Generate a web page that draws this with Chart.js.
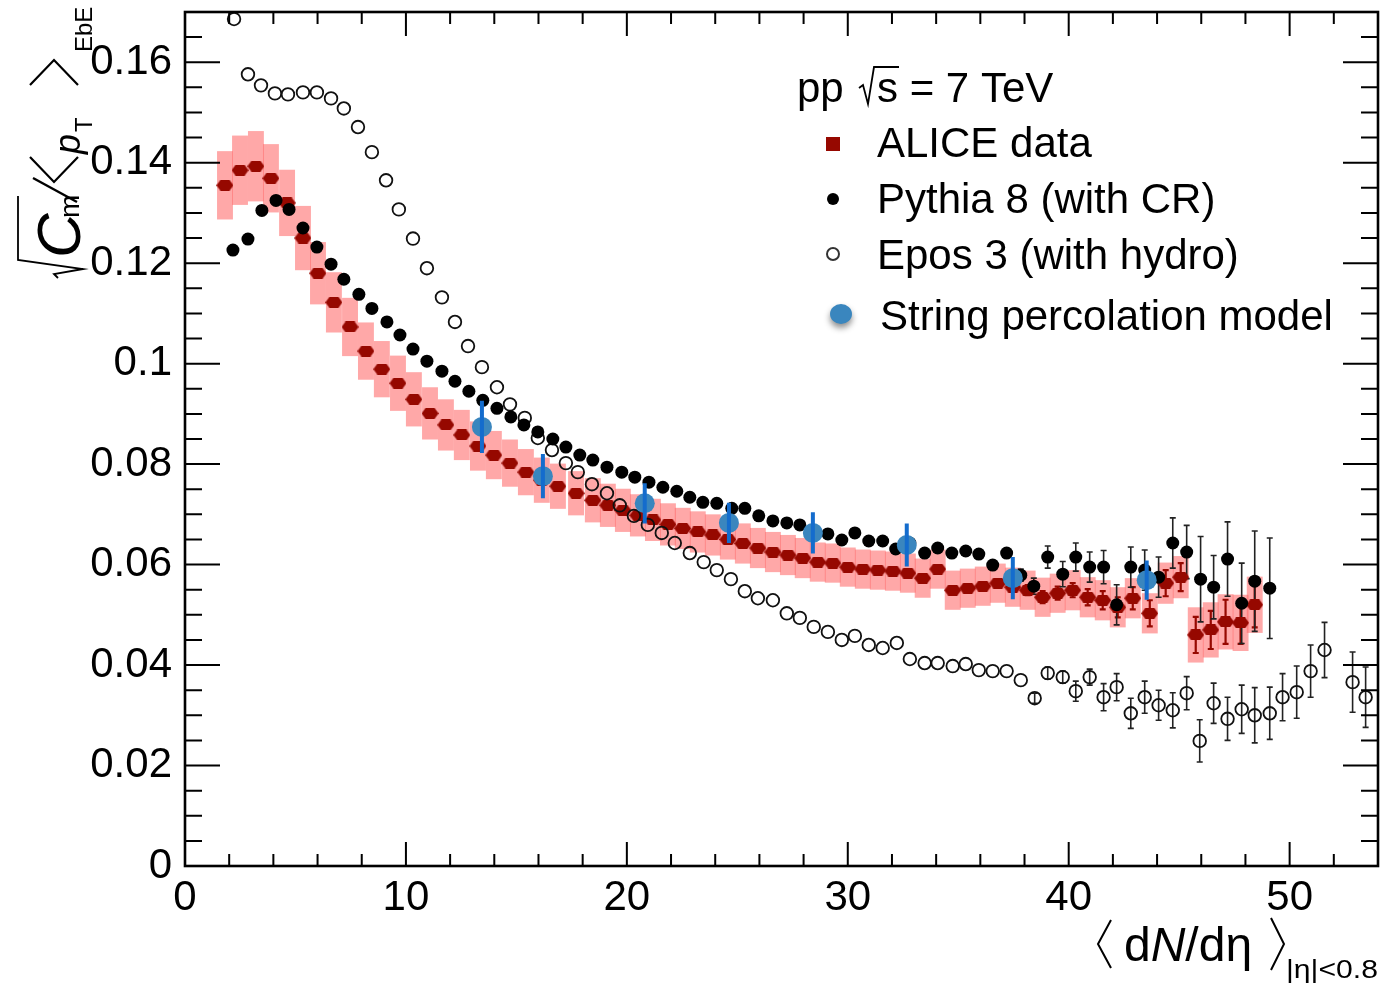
<!DOCTYPE html>
<html>
<head>
<meta charset="utf-8">
<title>sqrt(Cm)/&lt;pT&gt; vs dN/deta, pp 7 TeV</title>
<script src="https://cdn.jsdelivr.net/npm/chart.js@4.4.1/dist/chart.umd.min.js"></script>
<style>
  html, body { margin: 0; padding: 0; background: #fff; }
  canvas { display: block; }
</style>
</head>
<body>
<canvas id="cm-chart" width="1383" height="985"></canvas>
<script>
// axis ticks
const xTicks = [0, 10, 20, 30, 40, 50];
const yTicks = [0, 0.02, 0.04, 0.06, 0.08, 0.1, 0.12, 0.14, 0.16];

// ALICE data: value, systematic (boxes) and statistical (bars) uncertainty
const aliceX = [
  1.81, 2.49, 3.21, 3.89, 4.62, 5.34, 6.02, 6.74, 7.47, 8.19,
  8.91, 9.64, 10.36, 11.09, 11.81, 12.53, 13.26, 13.98, 14.71, 15.43,
  16.15, 16.88, 17.7, 18.46, 19.14, 19.82, 20.5, 21.18, 21.86, 22.53,
  23.21, 23.89, 24.57, 25.25, 25.93, 26.61, 27.29, 27.96, 28.64, 29.32,
  30.0, 30.68, 31.36, 32.04, 32.72, 33.39, 34.07, 34.75, 35.43, 36.11,
  36.79, 37.47, 38.14, 38.82, 39.5, 40.18, 40.86, 41.54, 42.22, 42.9,
  43.67, 44.39, 45.07, 45.75, 46.43, 47.1, 47.78, 48.42
];
const aliceY = [
  0.1355, 0.1385, 0.1393, 0.1369, 0.132, 0.125, 0.118, 0.1122, 0.1073, 0.1025,
  0.0989, 0.0961, 0.0929, 0.0901, 0.0878, 0.0858, 0.0836, 0.0818, 0.0802, 0.0784,
  0.0768, 0.0756, 0.0742, 0.0728, 0.0718, 0.0708, 0.0698, 0.0689, 0.068, 0.0672,
  0.0665, 0.0659, 0.065, 0.0642, 0.0633, 0.0625, 0.0619, 0.0613, 0.0605, 0.0603,
  0.0595, 0.0591, 0.0589, 0.0587, 0.0583, 0.0573, 0.0591, 0.0549, 0.0553, 0.0557,
  0.0563, 0.0555, 0.0549, 0.0535, 0.0543, 0.0549, 0.0535, 0.0529, 0.0515, 0.0533,
  0.0503, 0.0563, 0.0575, 0.046, 0.047, 0.0486, 0.0484, 0.052
];
const aliceSys = [
  0.0068, 0.0069, 0.007, 0.0068, 0.0066, 0.0064, 0.0062, 0.006, 0.0058, 0.0057,
  0.0056, 0.0055, 0.0054, 0.0052, 0.0051, 0.005, 0.0049, 0.0048, 0.0047, 0.0046,
  0.0045, 0.0045, 0.0044, 0.0044, 0.0043, 0.0043, 0.0042, 0.0042, 0.0042, 0.0041,
  0.0041, 0.0041, 0.004, 0.004, 0.004, 0.004, 0.004, 0.004, 0.0039, 0.0039,
  0.0039, 0.0039, 0.0039, 0.0039, 0.0039, 0.0039, 0.0039, 0.0039, 0.0039, 0.0039,
  0.0039, 0.0039, 0.0039, 0.0039, 0.0039, 0.004, 0.004, 0.004, 0.004, 0.004,
  0.004, 0.0041, 0.0042, 0.0055, 0.0055, 0.0055, 0.0056, 0.0056
];
const aliceStat = [
  0, 0, 0, 0, 0, 0, 0, 0, 0, 0,
  0, 0, 0, 0, 0, 0, 0, 0, 0, 0,
  0, 0, 0, 0, 0, 0, 0, 0, 0, 0,
  0, 0, 0, 0, 0, 0, 0, 0, 0, 0,
  0, 0, 0, 0, 0, 0, 0, 0, 0, 0,
  0, 0, 0.001, 0.0012, 0.0013, 0.0014, 0.0016, 0.0018, 0.002, 0.0022,
  0.0026, 0.0026, 0.0028, 0.0036, 0.0038, 0.0044, 0.0042, 0.0045
];

// Pythia 8 with colour reconnection
const pythiaX = [
  2.17, 2.85, 3.48, 4.12, 4.71, 5.34, 5.97, 6.61, 7.19, 7.87,
  8.46, 9.14, 9.73, 10.32, 10.95, 11.63, 12.22, 12.85, 13.48, 14.12,
  14.75, 15.34, 15.97, 16.65, 17.24, 17.87, 18.46, 19.1, 19.77, 20.36,
  21.0, 21.63, 22.26, 22.85, 23.44, 24.07, 24.75, 25.34, 25.97, 26.61,
  27.24, 27.83, 28.46, 29.1, 29.73, 30.32, 30.95, 31.58, 32.17, 32.81,
  33.48, 34.07, 34.71, 35.34, 35.93, 36.56, 37.19, 37.83, 38.42, 39.05,
  39.73, 40.32, 40.95, 41.58, 42.17, 42.81, 43.44, 44.07, 44.71, 45.34,
  45.97, 46.56, 47.19, 47.83, 48.42, 49.1
];
const pythiaY = [
  0.1226, 0.1248, 0.1305, 0.1325, 0.1307, 0.127, 0.1232, 0.1198, 0.1168, 0.1138,
  0.111, 0.1083, 0.1057, 0.1029, 0.1005, 0.0985, 0.0965, 0.0945, 0.0927, 0.0911,
  0.0894, 0.0878, 0.0864, 0.085, 0.0834, 0.0818, 0.0808, 0.0794, 0.0784, 0.0774,
  0.0764, 0.0754, 0.0746, 0.0734, 0.0724, 0.0722, 0.0712, 0.0712, 0.0697, 0.0687,
  0.0683, 0.0679, 0.0665, 0.0661, 0.0649, 0.0663, 0.0647, 0.0647, 0.0631, 0.0643,
  0.0623, 0.0633, 0.0623, 0.0627, 0.0621, 0.0599, 0.0623, 0.0579, 0.0557, 0.0615,
  0.0581, 0.0615, 0.0595, 0.0595, 0.052, 0.0595, 0.0589, 0.0575, 0.0643, 0.0625,
  0.0571, 0.0555, 0.0611, 0.0523, 0.0567, 0.0553
];
const pythiaErr = [
  0, 0, 0, 0, 0, 0, 0, 0, 0, 0,
  0, 0, 0, 0, 0, 0, 0, 0, 0, 0,
  0, 0, 0, 0, 0, 0, 0, 0, 0, 0,
  0, 0, 0, 0, 0, 0, 0, 0, 0, 0,
  0, 0, 0, 0, 0, 0, 0, 0, 0, 0,
  0, 0, 0, 0, 0, 0, 0.0008, 0.0012, 0.0016, 0.0022,
  0.0025, 0.0028, 0.003, 0.0033, 0.004, 0.004, 0.004, 0.004, 0.005, 0.0053,
  0.0085, 0.0063, 0.0074, 0.008, 0.01, 0.01
];

// EPOS 3 with hydro
const eposX = [
  2.22, 2.85, 3.44, 4.07, 4.66, 5.34, 5.97, 6.61, 7.19, 7.83,
  8.46, 9.1, 9.68, 10.32, 10.95, 11.63, 12.22, 12.81, 13.44, 14.12,
  14.71, 15.38, 15.97, 16.61, 17.24, 17.78, 18.42, 19.1, 19.68, 20.32,
  20.95, 21.58, 22.17, 22.85, 23.48, 24.07, 24.71, 25.34, 25.93, 26.61,
  27.24, 27.83, 28.46, 29.1, 29.73, 30.32, 30.95, 31.58, 32.22, 32.81,
  33.48, 34.07, 34.75, 35.34, 35.93, 36.56, 37.19, 37.83, 38.46, 39.05,
  39.73, 40.32, 40.95, 41.58, 42.17, 42.81, 43.44, 44.07, 44.71, 45.34,
  45.93, 46.56, 47.19, 47.83, 48.42, 49.1, 49.68, 50.32, 50.95, 51.58,
  52.85, 53.44
];
const eposY = [
  0.1686, 0.1576, 0.1554, 0.1538, 0.1536, 0.154, 0.154, 0.1528, 0.1508, 0.1471,
  0.1421, 0.1365, 0.1307, 0.1249, 0.119, 0.1132, 0.1083, 0.1035, 0.0993, 0.0953,
  0.0919, 0.0892, 0.0852, 0.0828, 0.0802, 0.0784, 0.076, 0.0742, 0.0718, 0.0697,
  0.0679, 0.0663, 0.0643, 0.0623, 0.0605, 0.0589, 0.0571, 0.0547, 0.0533, 0.0529,
  0.0503, 0.0494, 0.0476, 0.0466, 0.045, 0.0458, 0.044, 0.0434, 0.0444, 0.0412,
  0.0404, 0.0404, 0.0398, 0.0402, 0.039, 0.0388, 0.0388, 0.037, 0.0334, 0.0384,
  0.0376, 0.0348, 0.0376, 0.0336, 0.0356, 0.0304, 0.0336, 0.032, 0.031, 0.0344,
  0.0249, 0.0324, 0.0293, 0.0312, 0.03, 0.0304, 0.0336, 0.0346, 0.0388, 0.043,
  0.0366, 0.0336
];
const eposErr = [
  0, 0, 0, 0, 0, 0, 0, 0, 0, 0,
  0, 0, 0, 0, 0, 0, 0, 0, 0, 0,
  0, 0, 0, 0, 0, 0, 0, 0, 0, 0,
  0, 0, 0, 0, 0, 0, 0, 0, 0, 0,
  0, 0, 0, 0, 0, 0, 0, 0, 0, 0,
  0, 0, 0, 0, 0, 0, 0, 0, 0.001, 0.0012,
  0.0012, 0.002, 0.0016, 0.0027, 0.0027, 0.003, 0.0032, 0.003, 0.0035, 0.0033,
  0.0042, 0.004, 0.0043, 0.0048, 0.0055, 0.0052, 0.0047, 0.0052, 0.0052, 0.0055,
  0.006, 0.006
];

// string percolation model
const spmX = [13.44, 16.2, 20.81, 24.62, 28.42, 32.67, 37.47, 43.53];
const spmY = [0.0874, 0.0776, 0.0722, 0.0683, 0.0663, 0.0639, 0.0573, 0.0569];
const spmErr = [0.0052, 0.0044, 0.004, 0.004, 0.0041, 0.0043, 0.0042, 0.0039];

const FONT = '"Liberation Sans", Arial, Helvetica, sans-serif';
const ALICE_RED = 'rgb(150, 8, 0)';
const SYS_FILL = 'rgba(255, 105, 105, 0.58)';
const SPM_BLUE = 'rgb(58, 134, 190)';
const SPM_BAR = 'rgb(20, 108, 205)';
const SYS_HALF_W = 0.36; // box half width, dN/deta units

function toPoints(xs, ys) {
  return xs.map((x, i) => ({ x: x, y: ys[i] }));
}

// flattened hexagon used for the ALICE points
function makeAliceMarker(w, h, color) {
  const c = document.createElement('canvas');
  c.width = w;
  c.height = h;
  const g = c.getContext('2d');
  g.fillStyle = color;
  g.beginPath();
  g.moveTo(4, 0);
  g.lineTo(w - 4, 0);
  g.lineTo(w, h / 2);
  g.lineTo(w - 4, h);
  g.lineTo(4, h);
  g.lineTo(0, h / 2);
  g.closePath();
  g.fill();
  return c;
}
const aliceMarker = makeAliceMarker(17, 11, ALICE_RED);

function drawErrorBars(chart, xs, ys, errs, color, lw, cap) {
  const ctx = chart.ctx;
  const sx = chart.scales.x;
  const sy = chart.scales.y;
  ctx.save();
  ctx.strokeStyle = color;
  ctx.lineWidth = lw;
  ctx.beginPath();
  xs.forEach((xv, i) => {
    if (!errs[i]) {
      return;
    }
    const px = sx.getPixelForValue(xv);
    const lo = sy.getPixelForValue(ys[i] - errs[i]);
    const hi = sy.getPixelForValue(ys[i] + errs[i]);
    ctx.moveTo(px, lo);
    ctx.lineTo(px, hi);
    if (cap) {
      ctx.moveTo(px - cap, lo);
      ctx.lineTo(px + cap, lo);
      ctx.moveTo(px - cap, hi);
      ctx.lineTo(px + cap, hi);
    }
  });
  ctx.stroke();
  ctx.restore();
}

function line(ctx, pts) {
  ctx.beginPath();
  ctx.moveTo(pts[0][0], pts[0][1]);
  for (let i = 1; i < pts.length; i++) {
    ctx.lineTo(pts[i][0], pts[i][1]);
  }
  ctx.stroke();
}

// inward ticks on all four sides, like a ROOT frame
function drawFrame(chart) {
  const ctx = chart.ctx;
  const a = chart.chartArea;
  const sx = chart.scales.x;
  const sy = chart.scales.y;
  ctx.save();
  ctx.strokeStyle = '#000';
  ctx.lineWidth = 2;
  ctx.beginPath();
  for (let v = 0; v <= 54; v += 2) {
    const px = sx.getPixelForValue(v);
    const len = v % 10 === 0 ? 24 : 12;
    ctx.moveTo(px, a.bottom);
    ctx.lineTo(px, a.bottom - len);
    ctx.moveTo(px, a.top);
    ctx.lineTo(px, a.top + len);
  }
  for (let i = 0; i <= 34; i++) {
    const py = sy.getPixelForValue(i * 0.005);
    const len = i % 4 === 0 ? 35 : 17;
    ctx.moveTo(a.left, py);
    ctx.lineTo(a.left + len, py);
    ctx.moveTo(a.right, py);
    ctx.lineTo(a.right - len, py);
  }
  ctx.stroke();
  ctx.lineWidth = 2.6;
  ctx.strokeRect(a.left, a.top, a.right - a.left, a.bottom - a.top);
  ctx.restore();
}

function drawXTitle(ctx) {
  ctx.save();
  ctx.fillStyle = '#000';
  ctx.strokeStyle = '#000';
  ctx.lineWidth = 2;
  ctx.lineJoin = 'miter';
  line(ctx, [[1111, 920], [1098, 944], [1111, 968]]);
  line(ctx, [[1271, 918], [1284, 944], [1271, 970]]);
  ctx.textBaseline = 'alphabetic';
  let x = 1124;
  const base = 961;
  const parts = [['d', ''], ['N', 'italic '], ['/d', ''], ['\u03b7', '']];
  parts.forEach(p => {
    ctx.font = p[1] + '48px ' + FONT;
    ctx.fillText(p[0], x, base);
    x += ctx.measureText(p[0]).width;
  });
  ctx.font = '26px ' + FONT;
  const sub = '|\u03b7|<0.8';
  const w = ctx.measureText(sub).width;
  ctx.translate(1286, 978);
  ctx.scale(92 / w, 1);
  ctx.fillText(sub, 0, 0);
  ctx.restore();
}

function drawYTitle(ctx) {
  ctx.save();
  ctx.translate(80, 278);
  ctx.rotate(-Math.PI / 2);
  ctx.fillStyle = '#000';
  ctx.strokeStyle = '#000';
  ctx.textBaseline = 'alphabetic';
  // square root sign over C_m
  ctx.lineWidth = 1.8;
  line(ctx, [[0, -22], [4, -26], [9, 3], [18, -62], [82, -62]]);
  ctx.font = 'italic 62px ' + FONT;
  ctx.fillText('C', 20, 0);
  ctx.font = '28px ' + FONT;
  ctx.fillText('m', 60, -1);
  ctx.lineWidth = 2.4;
  line(ctx, [[76, -3], [100, -47]]);
  ctx.lineWidth = 2.2;
  line(ctx, [[121, -50], [96, -26], [121, -2]]);
  ctx.font = 'italic 36px ' + FONT;
  ctx.fillText('p', 124, 0);
  ctx.font = '24px ' + FONT;
  ctx.fillText('T', 146, 12);
  line(ctx, [[193, -50], [218, -26], [193, -2]]);
  ctx.font = '24px ' + FONT;
  ctx.fillText('EbE', 226, 12);
  ctx.restore();
}

function drawLegend(ctx) {
  ctx.save();
  ctx.fillStyle = '#000';
  ctx.strokeStyle = '#000';
  ctx.textBaseline = 'alphabetic';
  ctx.font = '42px ' + FONT;
  ctx.fillText('pp', 797, 102);
  ctx.lineWidth = 1.8;
  line(ctx, [[859, 88], [863, 85], [868, 104], [874, 67], [899, 67]]);
  ctx.fillText('s = 7 TeV', 877, 102);

  ctx.fillStyle = ALICE_RED;
  ctx.fillRect(826, 137, 14, 14);
  ctx.fillStyle = '#000';
  ctx.beginPath();
  ctx.arc(833, 199, 6, 0, Math.PI * 2);
  ctx.fill();
  ctx.lineWidth = 2;
  ctx.strokeStyle = '#333';
  ctx.beginPath();
  ctx.arc(833, 254, 6, 0, Math.PI * 2);
  ctx.stroke();
  ctx.save();
  ctx.shadowColor = 'rgba(0, 0, 0, 0.45)';
  ctx.shadowBlur = 6;
  ctx.shadowOffsetY = 4;
  ctx.fillStyle = SPM_BLUE;
  ctx.beginPath();
  ctx.ellipse(841, 314, 11, 10, 0, 0, Math.PI * 2);
  ctx.fill();
  ctx.restore();

  ctx.fillStyle = '#000';
  ctx.fillText('ALICE data', 877, 157);
  ctx.fillText('Pythia 8 (with CR)', 877, 213);
  ctx.fillText('Epos 3 (with hydro)', 877, 269);
  ctx.fillText('String percolation model', 880, 330);
  ctx.restore();
}

const rootStyle = {
  id: 'rootStyle',
  beforeDatasetsDraw(chart) {
    const ctx = chart.ctx;
    const a = chart.chartArea;
    const sx = chart.scales.x;
    const sy = chart.scales.y;
    ctx.save();
    ctx.beginPath();
    ctx.rect(a.left, a.top, a.right - a.left, a.bottom - a.top);
    ctx.clip();
    ctx.fillStyle = SYS_FILL;
    aliceX.forEach((xv, i) => {
      const l = sx.getPixelForValue(xv - SYS_HALF_W);
      const r = sx.getPixelForValue(xv + SYS_HALF_W);
      const t = sy.getPixelForValue(aliceY[i] + aliceSys[i]);
      const b = sy.getPixelForValue(aliceY[i] - aliceSys[i]);
      ctx.fillRect(l, t, r - l, b - t);
    });
    drawErrorBars(chart, aliceX, aliceY, aliceStat, ALICE_RED, 2.2, 3);
    drawErrorBars(chart, eposX, eposY, eposErr, '#222', 1.6, 3);
    drawErrorBars(chart, pythiaX, pythiaY, pythiaErr, '#222', 1.6, 3);
    ctx.restore();
  },
  afterDatasetsDraw(chart) {
    drawErrorBars(chart, spmX, spmY, spmErr, SPM_BAR, 4, 0);
  },
  afterDraw(chart) {
    const ctx = chart.ctx;
    drawFrame(chart);
    drawXTitle(ctx);
    drawYTitle(ctx);
    drawLegend(ctx);
  },
};

new Chart(document.getElementById('cm-chart'), {
  type: 'scatter',
  data: {
    datasets: [
      {
        label: 'String percolation model',
        data: toPoints(spmX, spmY),
        pointRadius: 10,
        pointBackgroundColor: SPM_BLUE,
        pointBorderWidth: 0,
        order: 0,
      },
      {
        label: 'Pythia 8 (with CR)',
        data: toPoints(pythiaX, pythiaY),
        pointRadius: 6.5,
        pointBackgroundColor: '#000',
        pointBorderWidth: 0,
        order: 1,
      },
      {
        label: 'Epos 3 (with hydro)',
        data: toPoints(eposX, eposY),
        pointRadius: 6.3,
        pointBackgroundColor: 'rgba(0, 0, 0, 0)',
        pointBorderColor: '#111',
        pointBorderWidth: 1.8,
        order: 2,
      },
      {
        label: 'ALICE data',
        data: toPoints(aliceX, aliceY),
        pointStyle: aliceMarker,
        order: 3,
      },
    ],
  },
  options: {
    responsive: false,
    animation: false,
    events: [],
    layout: { padding: { left: 0, top: 12, right: 5, bottom: 0 }, autoPadding: false },
    plugins: {
      legend: { display: false },
      tooltip: { enabled: false },
    },
    scales: {
      x: {
        type: 'linear',
        min: 0,
        max: 54,
        grid: { display: false, drawTicks: false },
        border: { display: false },
        afterBuildTicks: scale => {
          scale.ticks = xTicks.map(v => ({ value: v }));
        },
        afterFit: scale => {
          scale.height = 119;
          scale.paddingLeft = 0;
          scale.paddingRight = 0;
        },
        ticks: {
          color: '#000',
          padding: 7,
          maxRotation: 0,
          font: { family: FONT, size: 42 },
          callback: v => String(v),
        },
      },
      y: {
        type: 'linear',
        min: 0,
        max: 0.17,
        grid: { display: false, drawTicks: false },
        border: { display: false },
        afterBuildTicks: scale => {
          scale.ticks = yTicks.map(v => ({ value: v }));
        },
        afterFit: scale => {
          scale.width = 185;
          scale.paddingTop = 0;
          scale.paddingBottom = 0;
        },
        ticks: {
          color: '#000',
          padding: 13,
          font: { family: FONT, size: 42 },
          callback: v => String(v),
        },
      },
    },
  },
  plugins: [rootStyle],
});
</script>
</body>
</html>
